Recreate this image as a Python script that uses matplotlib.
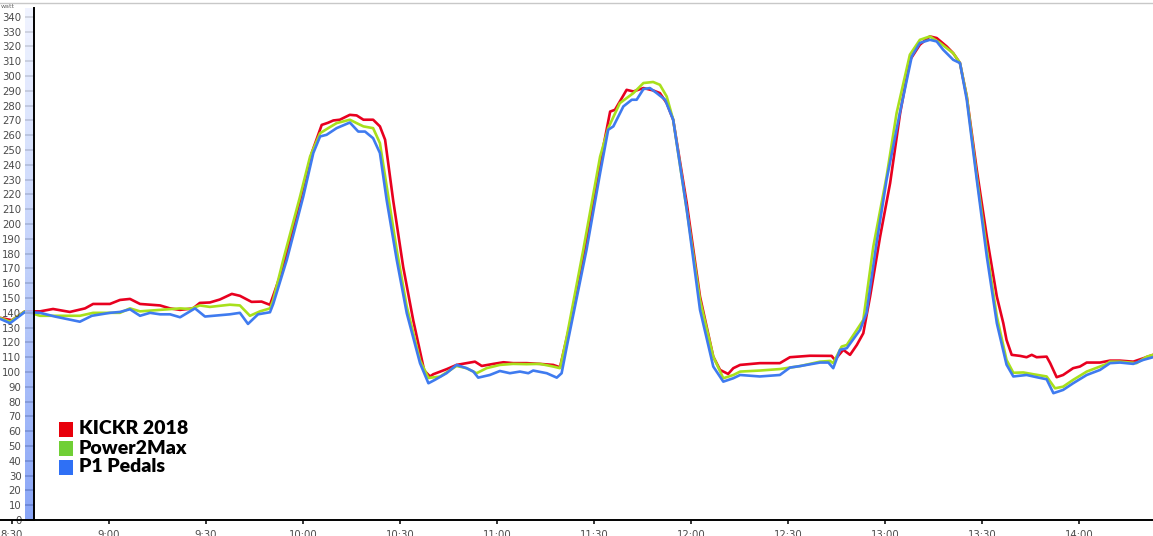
import matplotlib.pyplot as plt
import numpy as np
from matplotlib.lines import Line2D
from matplotlib.patches import Rectangle
from matplotlib.colors import LinearSegmentedColormap

# time is minutes after 8:30 on the clock axis
red_t = [-3.7, 0, 4.0, 8.7, 12.7, 17.9, 22.6, 25.1, 30.3, 33.4, 36.5, 39.6, 45.8, 48.9, 52.0, 56.0,
         58.1, 61.2, 64.3, 68.0, 70.5, 74.1, 77.2, 79.8, 83.9, 89.1, 92.7, 95.8, 97.7, 99.4, 101.4,
         104.5, 106.6, 108.7, 111.7, 113.8, 115.4, 117.9, 121.0, 124.1, 127.5, 129.3, 130.3, 134.4,
         137.5, 140.6, 143.2, 145.3, 148.9, 152.0, 155.0, 159.2, 163.3, 167.4, 169.5, 173.6, 178.8,
         182.9, 185.0, 186.5, 188.0, 190.1, 192.2, 195.3, 198.3, 200.4, 202.5, 204.5, 208.7, 212.8,
         216.9, 219.0, 221.5, 223.1, 225.2, 231.3, 237.5, 240.6, 246.8, 253.5, 254.5, 257.1, 259.2,
         261.3, 263.3, 265.4, 268.5, 271.6, 274.7, 277.7, 280.8, 283.9, 286.0, 289.1, 291.1, 293.2,
         295.3, 298.4, 301.5, 304.6, 306.6, 307.6, 309.2, 311.8, 313.8, 315.4, 316.9, 320.0, 321.1,
         323.1, 325.1, 328.2, 330.3, 332.4, 336.5, 339.6, 342.7, 346.8, 349.9, 352.9]
red_w = [136.6, 135, 141, 141, 142.6, 140.6, 143, 146, 146, 148.7, 149.4, 146, 145, 143, 142, 143,
         146.7, 147, 149, 152.8, 151.5, 147.4, 147.6, 145.4, 171, 216, 248, 267, 268.4, 270, 270.5,
         273.8, 273.4, 270.5, 270.5, 266, 257, 216, 171, 135, 101, 97, 98.5, 101.9,
         104.8, 106, 107, 104.1, 105.5, 106.6, 106, 106, 105.5, 104.8, 103.2, 142, 202.8,
         252.4, 276, 277.2, 282.8, 290.7, 289.6, 291.9, 290.3, 288.5, 281.7, 270.5, 214.1, 151,
         110.4, 101.4, 98.7, 102.6, 104.8, 106, 106, 110, 111, 110.9, 108.2, 115, 111.6,
         118.3, 126.2, 151, 191.5, 227.7, 275, 310.7, 321.2, 326.8, 325.7, 320, 315.5, 308.8,
         286.2, 236.6, 191.5, 151, 133, 121.7, 111.6, 110.9, 110, 111.6, 110, 110.4, 106,
         96.5, 98, 102.6, 103.7, 106.4, 106.4, 107.7, 107.7, 107, 109.3, 111.6]

green_t = [-3.7, -0.6, 4.0, 8.7, 14.8, 21.0, 25.1, 33.4, 36.5, 39.6, 45.8, 52.0, 55.1, 58.1, 61.2,
           67.4, 70.5, 73.6, 76.7, 79.8, 80.8, 83.9, 89.1, 92.2, 95.3, 97.8, 100.4, 104.5, 106.6,
           108.7, 111.7, 113.8, 115.9, 119.0, 122.1, 126.2, 128.8, 132.4, 137.5, 140.6, 143.7, 146.8,
           150.9, 155.0, 159.2, 163.3, 167.4, 169.5, 171.6, 176.7, 181.9, 184.4, 188.0, 192.2, 195.3,
           198.3, 200.4, 202.5, 204.5, 208.7, 212.8, 216.9, 220.0, 223.1, 225.2, 231.3, 237.5, 243.7,
           249.9, 253.0, 254.0, 256.6, 258.2, 261.3, 263.3, 266.4, 270.5, 273.6, 277.7, 280.8, 283.9,
           287.0, 291.1, 293.2, 295.3, 298.4, 301.5, 304.6, 307.6, 309.7, 312.8, 315.9, 320.0, 322.6,
           325.1, 328.2, 332.4, 336.5, 338.6, 339.6, 342.7, 347.8, 351.0, 352.9]
green_w = [136.6, 134, 141, 138, 138, 138, 140, 140, 143, 141, 142, 143, 142.6, 145, 144,
           145.5, 145, 138, 141, 143, 148.7, 175.8, 218.6, 245.6, 261.4, 264.8, 268.2, 270.5, 268.2,
           266, 264.8, 254.7, 225.4, 182.6, 144.2, 108, 96, 96.9, 104.1, 102.6, 99.2, 102.6,
           104.8, 105.5, 105.3, 105.5, 103.7, 102.6, 124, 182.6, 245.6, 264.8, 281.7, 288.5, 295.3,
           296, 294.1, 286.2, 270.5, 209.6, 148.7, 110.4, 95.8, 98, 100.3, 101, 102, 104,
           107, 107.5, 106, 117.2, 118.3, 128.5, 135.2, 184.8, 232.1, 275, 314.4, 324.5, 326.8,
           322.4, 315.5, 308.8, 286.2, 232.1, 182.6, 137.5, 108.2, 99.5, 99.7, 98.5, 97, 89,
           90.1, 94.7, 100.3, 103.7, 105.5, 107, 107, 106, 110.4, 111.6]

blue_t = [-3.7, -0.6, 4.0, 8.7, 13.3, 21.0, 24.7, 30.3, 33.4, 36.5, 39.6, 42.7, 45.8, 48.9, 52.0,
          56.6, 59.7, 67.4, 70.5, 73.0, 76.1, 79.8, 80.8, 85.0, 90.1, 93.2, 95.3, 97.3, 100.4, 104.5,
          107.1, 109.2, 111.7, 113.8, 115.9, 119.0, 122.1, 126.2, 128.8, 130.8, 134.4, 137.5, 140.6,
          142.7, 144.2, 147.8, 150.9, 154.0, 157.1, 159.7, 161.2, 165.4, 168.5, 170.0, 171.6, 177.7,
          181.9, 184.4, 186.0, 189.1, 191.7, 193.2, 195.3, 197.3, 199.4, 202.0, 204.5, 208.7, 212.8,
          216.9, 220.0, 223.1, 225.2, 231.3, 237.5, 240.6, 243.7, 249.9, 252.5, 254.0, 256.1, 258.2,
          262.3, 264.3, 267.4, 270.5, 274.6, 278.3, 280.8, 283.9, 286.0, 288.0, 291.1, 293.2, 295.3,
          298.4, 301.5, 304.6, 307.6, 309.7, 313.8, 316.9, 320.0, 322.1, 325.1, 328.2, 332.4, 336.5,
          339.6, 342.7, 346.8, 349.9, 352.9]
blue_w = [136, 133, 140.6, 140, 137.5, 134, 138, 140, 140.6, 142.4, 138, 140, 139, 139, 137,
          143, 137.5, 139, 140, 132.5, 139, 140.4, 146, 175.8, 218.6, 248, 259.2, 260.3, 264.8, 268.6,
          262.5, 262.5, 258, 248, 216, 175.8, 139.8, 106, 92.4, 94.7, 99.2, 104.8, 102.6,
          100.3, 96.2, 98, 100.7, 99.2, 100.3, 99.2, 101, 99.2, 96.2, 99.2, 117.2, 182.6,
          234.4, 263.7, 266, 279.5, 284, 284, 291.2, 291.9, 288.5, 284, 270.5, 209.6, 142,
          103.7, 93.5, 95.8, 98, 97, 98, 103, 104, 106.4, 106.4, 102.6, 115, 116.1,
          128.5, 139.8, 187.1, 229.9, 275, 313.3, 322.4, 324.5, 323.4, 317.8, 311, 308.8, 284,
          229.9, 178, 133, 105, 97, 98, 96.5, 95.1, 85.7, 87.9, 92.4, 98, 101.4,
          106, 106.4, 105.5, 108.2, 110]

series_names = ["KICKR 2018", "Power2Max", "P1 Pedals"]
line_colors = ["#e8001f", "#a8e01c", "#3f7bef"]
legend_colors = ["#e8000b", "#70cf35", "#2f70f5"]

tick_minutes = list(range(0, 331, 30))
tick_labels = ["%d:%02d" % ((510 + m) // 60, (510 + m) % 60) for m in tick_minutes]

W, H = 1153, 536
fig = plt.figure(figsize=(W / 100, H / 100), dpi=100)
ax = fig.add_axes([0, 16 / H, 1, 512 / H])

for t, w, c in zip([red_t, green_t, blue_t], [red_w, green_w, blue_w], line_colors):
    ax.plot(t, w, color=c, lw=1.9, solid_joinstyle="round", solid_capstyle="round", zorder=1.5)

# gradient strip next to the y axis, built from thin bands
cmap = LinearSegmentedColormap.from_list("strip", ["#eef2ff", "#b7c9fa", "#7596f5"])
n_bands = 120
edges = np.linspace(346, 0, n_bands + 1)
for k in range(n_bands):
    ax.add_patch(Rectangle((4.0, edges[k + 1]), 2.8, edges[k] - edges[k + 1],
                           facecolor=cmap(k / (n_bands - 1)), edgecolor="none",
                           alpha=0.85, zorder=2.2))

ax.set_xlim(-3.7, 352.9)
ax.set_ylim(0, 346)
ax.set_yticks(range(0, 341, 10))
ax.set_xticks(tick_minutes)
ax.set_xticklabels(tick_labels)

for s in ["top", "right"]:
    ax.spines[s].set_visible(False)
ax.spines["left"].set_position(("data", 6.8))
ax.spines["left"].set_linewidth(1.4)
ax.spines["bottom"].set_linewidth(1.4)
ax.tick_params(axis="y", length=6.5, width=1.1, pad=2.5, labelsize=7.3, labelcolor="#4a4a4a")
ax.tick_params(axis="x", length=3, width=1.1, pad=4.5, labelsize=7.3, labelcolor="#4a4a4a")

# legend drawn by hand
for i, (name, c) in enumerate(zip(series_names, legend_colors)):
    yc = 1 - (429 + 19 * i) / H
    fig.add_artist(Rectangle((59 / W, yc - 7.5 / H), 14 / W, 15 / H,
                             transform=fig.transFigure, color=c, lw=0))
    fig.text(79 / W, yc, name, fontsize=14, fontweight="heavy", family="Lato",
             va="center", ha="left", color="black")

fig.text(1 / W, 1 - 6 / H, "watt", fontsize=4.5, color="#666666", va="center")
fig.add_artist(Line2D([0, 1], [1 - 2.5 / H] * 2, color="#c8c8c8", lw=1))

fig.savefig("out.png", dpi=100)
